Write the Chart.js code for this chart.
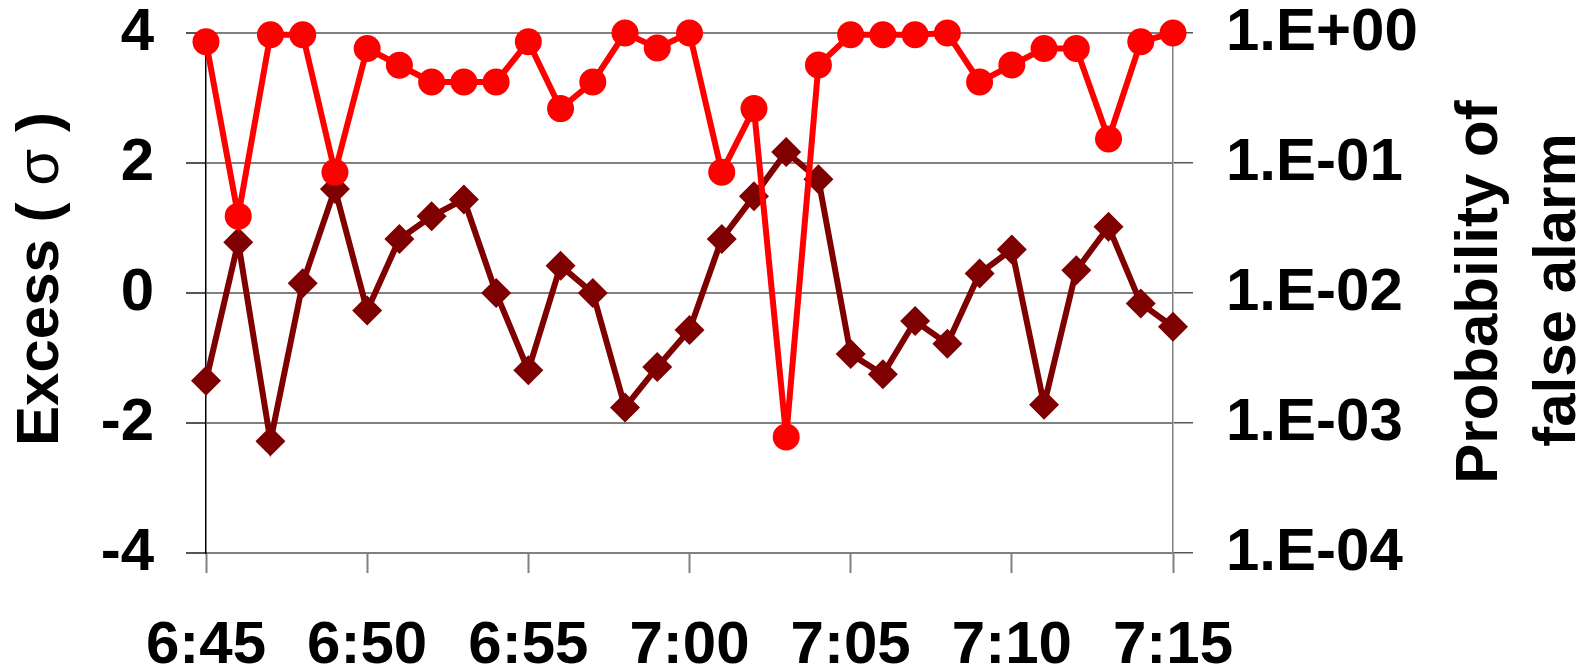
<!DOCTYPE html>
<html>
<head>
<meta charset="utf-8">
<script src="https://cdn.jsdelivr.net/npm/chart.js@4/dist/chart.umd.min.js"></script>
<style>
  html, body { margin: 0; padding: 0; background: #fff; }
  #wrap { width: 1586px; height: 672px; position: relative; }
</style>
</head>
<body>
<div id="wrap"><canvas id="chart"></canvas></div>
<script>
  // minutes from 6:45 to 7:15
  var times = ['6:45', '6:46', '6:47', '6:48', '6:49', '6:50', '6:51', '6:52', '6:53', '6:54',
    '6:55', '6:56', '6:57', '6:58', '6:59', '7:00', '7:01', '7:02', '7:03', '7:04',
    '7:05', '7:06', '7:07', '7:08', '7:09', '7:10', '7:11', '7:12', '7:13', '7:14', '7:15'];

  // excess in sigma (left axis, diamonds)
  var excess = [-1.35, 0.78, -2.28, 0.15, 1.60, -0.27, 0.83, 1.18, 1.44, 0.0,
    -1.19, 0.42, 0.0, -1.76, -1.14, -0.57, 0.83, 1.49, 2.17, 1.75,
    -0.94, -1.25, -0.43, -0.78, 0.30, 0.67, -1.72, 0.35, 1.02, -0.16, -0.52];

  // probability of false alarm (right axis, log, circles)
  var falseAlarm = [0.857, 0.039, 0.97, 0.97, 0.085, 0.76, 0.565, 0.42, 0.42, 0.42,
    0.857, 0.262, 0.42, 1.0, 0.767, 1.0, 0.085, 0.262, 0.00078, 0.567,
    0.97, 0.97, 0.97, 1.0, 0.42, 0.567, 0.76, 0.76, 0.153, 0.857, 1.0];

  var leftTicks = [-4, -2, 0, 2, 4];
  var rightTicks = [1e-4, 1e-3, 1e-2, 1e-1, 1];
  var rightTickLabels = ['1.E-04', '1.E-03', '1.E-02', '1.E-01', '1.E+00'];

  var FONT = '"Liberation Sans", Arial, sans-serif';
  var tickFont = { family: FONT, size: 60, weight: 'bold' };

  // draw pieces of text in a row, centred on 0 (sigma is not bold in the original)
  function drawParts(c, parts) {
    var total = 0;
    parts.forEach(function (p) { c.font = p[1] + ' 60px ' + FONT; p.w = c.measureText(p[0]).width; total += p.w; });
    var x = -total / 2;
    parts.forEach(function (p) { c.font = p[1] + ' 60px ' + FONT; c.fillText(p[0], x, 0); x += p.w; });
  }

  // axis titles, both read bottom to top
  var titlePlugin = {
    id: 'titles',
    afterDraw: function (chart) {
      var c = chart.ctx;
      var mid = (chart.chartArea.top + chart.chartArea.bottom) / 2;
      c.save();
      c.fillStyle = '#000';
      c.textAlign = 'left';
      c.textBaseline = 'alphabetic';
      var titles = [
        [58, mid - 14, [['Excess ( ', 'bold'], ['\u03c3', 'normal'], [' )', 'bold']]],
        [1497, mid - 1, [['Probability of', 'bold']]],
        [1575, mid - 3, [['false alarm', 'bold']]]
      ];
      titles.forEach(function (t) {
        c.save();
        c.translate(t[0], t[1]);
        c.rotate(-Math.PI / 2);
        drawParts(c, t[2]);
        c.restore();
      });
      c.restore();
    }
  };

  function noEndPadding(s) {
    s.paddingTop = 0;
    s.paddingBottom = 0;
  }

  new Chart(document.getElementById('chart').getContext('2d'), {
    type: 'line',
    data: {
      labels: times,
      datasets: [{
        label: 'Probability of false alarm',
        data: falseAlarm,
        yAxisID: 'yp',
        borderColor: '#ff0000',
        backgroundColor: '#ff0000',
        borderWidth: 6,
        pointStyle: 'circle',
        pointRadius: 13.5,
        pointBorderWidth: 0,
        pointBackgroundColor: '#ff0000',
        tension: 0,
        clip: false
      }, {
        label: 'Excess',
        data: excess,
        yAxisID: 'y',
        borderColor: '#7f0000',
        backgroundColor: '#7f0000',
        borderWidth: 6,
        pointStyle: 'rectRot',
        pointRadius: 15,
        pointBorderWidth: 0,
        pointBackgroundColor: '#7f0000',
        tension: 0,
        clip: false
      }]
    },
    options: {
      responsive: true,
      maintainAspectRatio: false,
      animation: false,
      events: [],
      layout: { padding: { top: 33, left: 0, right: 0, bottom: 0 } },
      plugins: { legend: { display: false }, tooltip: { enabled: false } },
      scales: {
        x: {
          type: 'category',
          afterFit: function (s) { s.height = 119; },
          border: { color: '#808080', width: 2 },
          grid: {
            drawOnChartArea: false,
            drawTicks: true,
            tickLength: 20,
            tickWidth: 2,
            tickColor: function (ctx) { return ctx.index % 5 === 0 ? '#808080' : 'rgba(0,0,0,0)'; }
          },
          ticks: {
            autoSkip: false,
            maxRotation: 0,
            minRotation: 0,
            padding: 37,
            color: '#000',
            font: tickFont,
            callback: function (val, i) { return i % 5 === 0 ? times[i] : ''; }
          }
        },
        y: {
          position: 'left',
          min: -4,
          max: 4,
          afterFit: function (s) { s.width = 206; noEndPadding(s); },
          afterBuildTicks: function (s) { s.ticks = leftTicks.map(function (v) { return { value: v }; }); },
          border: { color: '#000', width: 1.5 },
          grid: {
            color: '#808080',
            lineWidth: 2,
            drawTicks: true,
            tickLength: 20,
            tickColor: '#555'
          },
          ticks: {
            padding: 32,
            color: '#000',
            font: tickFont,
            callback: function (v) { return String(v); }
          }
        },
        yp: {
          type: 'logarithmic',
          position: 'right',
          min: 1e-4,
          max: 1,
          afterFit: function (s) { s.width = 1586 - 1173; noEndPadding(s); },
          afterBuildTicks: function (s) { s.ticks = rightTicks.map(function (v) { return { value: v }; }); },
          border: { color: '#808080', width: 1.5 },
          grid: {
            drawOnChartArea: false,
            drawTicks: true,
            tickLength: 20,
            color: '#555',
            lineWidth: 1.5
          },
          ticks: {
            padding: 33,
            color: '#000',
            font: tickFont,
            callback: function (v, i) { return rightTickLabels[i]; }
          }
        }
      }
    },
    plugins: [titlePlugin]
  });
</script>
</body>
</html>
